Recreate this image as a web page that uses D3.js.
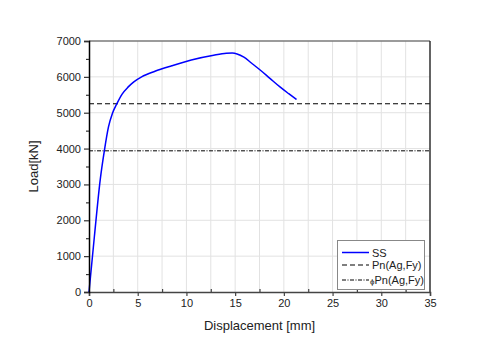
<!DOCTYPE html>
<html><head><meta charset="utf-8">
<script src="https://cdn.jsdelivr.net/npm/d3@7"></script>
<style>body{margin:0;background:#fff}svg{display:block;font-family:"Liberation Sans",Arial,sans-serif}</style>
</head><body><svg id="c" width="500" height="351"></svg>
<script>
const disp = [0, 0.55, 1.16, 1.57, 2.0, 2.4, 2.84, 3.4, 4.03, 4.6, 5.4, 6.77, 8.5, 10.5, 12.8, 14.1, 14.7, 15.2, 15.9, 16.7, 17.6, 18.6, 19.6, 20.5, 21.3];
const load = [0, 1540, 3150, 3930, 4605, 4980, 5240, 5520, 5720, 5860, 6000, 6156, 6310, 6470, 6602, 6655, 6662, 6640, 6550, 6380, 6184, 5950, 5719, 5530, 5368];
const pn = 5250;
const phiPn = 3937.5;
const xTicks = [0, 5, 10, 15, 20, 25, 30, 35];
const yTicks = [0, 1000, 2000, 3000, 4000, 5000, 6000, 7000];
const legendLabels = ["SS", "Pn(Ag,Fy)", "Pn(Ag,Fy)"];

const svg = d3.select("#c");
const L = 89, R = 430, T = 41, B = 292;
const x = d3.scaleLinear().domain([0, 35]).range([L, R]);
const y = d3.scaleLinear().domain([0, 7000]).range([B, T]);

// grid
const xGrid = d3.range(0, 35.01, 2.5);
svg.append("g").selectAll("line").data(xGrid.filter(v => v > 0 && v < 35)).join("line")
  .attr("x1", d => x(d)).attr("x2", d => x(d)).attr("y1", T).attr("y2", B)
  .attr("stroke", "#e2e2e2").attr("stroke-width", 1);
svg.append("g").selectAll("line").data(yTicks.filter(v => v > 0 && v < 7000)).join("line")
  .attr("x1", L).attr("x2", R).attr("y1", d => y(d)).attr("y2", d => y(d))
  .attr("stroke", "#e2e2e2").attr("stroke-width", 1);

// reference lines
svg.append("line").attr("x1", x(0)).attr("x2", x(35)).attr("y1", y(pn)).attr("y2", y(pn))
  .attr("stroke", "#000").attr("stroke-width", 1.1).attr("stroke-dasharray", "5,3");
svg.append("line").attr("x1", x(0)).attr("x2", x(35)).attr("y1", y(phiPn)).attr("y2", y(phiPn))
  .attr("stroke", "#000").attr("stroke-width", 1).attr("stroke-dasharray", "4,1.5,1,1.5");

// curve
const line = d3.line().x((d, i) => x(disp[i])).y((d, i) => y(load[i])).curve(d3.curveMonotoneX);
svg.append("path").datum(load).attr("d", line).attr("fill", "none")
  .attr("stroke", "#0000ff").attr("stroke-width", 1.5);

// frame
svg.append("line").attr("x1", L).attr("x2", R).attr("y1", T).attr("y2", T).attr("stroke", "#7a7a7a").attr("stroke-width", 1.6);
svg.append("line").attr("x1", R).attr("x2", R).attr("y1", T).attr("y2", B).attr("stroke", "#222").attr("stroke-width", 1.4);

// x axis
const xAx = svg.append("g").attr("transform", `translate(0,${B})`)
  .call(d3.axisBottom(x).tickValues(xTicks).tickSize(4).tickPadding(3).tickFormat(d3.format("d")));
xAx.select(".domain").attr("stroke", "#444").attr("stroke-width", 1.5);
xAx.selectAll(".tick line").attr("stroke", "#444").attr("stroke-width", 1.2);
xAx.selectAll("text").attr("font-size", 11).attr("fill", "#222").attr("font-family", "Liberation Sans, Arial, sans-serif");
svg.append("g").attr("transform", `translate(0,${B})`)
  .call(d3.axisTop(x).tickValues(d3.range(2.5, 35, 5)).tickSize(3).tickFormat(""))
  .call(g => { g.select(".domain").remove(); g.selectAll("line").attr("stroke", "#444").attr("stroke-width", 1.2); });

// y axis
const yAx = svg.append("g").attr("transform", `translate(${L},0)`)
  .call(d3.axisLeft(y).tickValues(yTicks).tickSize(5).tickPadding(3).tickFormat(d3.format("d")));
yAx.select(".domain").attr("stroke", "#000").attr("stroke-width", 1.5);
yAx.selectAll(".tick line").attr("stroke", "#333").attr("stroke-width", 1.2);
yAx.selectAll("text").attr("font-size", 11).attr("fill", "#222").attr("font-family", "Liberation Sans, Arial, sans-serif");
svg.append("g").attr("transform", `translate(${L},0)`)
  .call(d3.axisLeft(y).tickValues(d3.range(500, 7000, 1000)).tickSize(3).tickFormat(""))
  .call(g => { g.select(".domain").remove(); g.selectAll("line").attr("stroke", "#333").attr("stroke-width", 1.2); });

// titles
svg.append("text").attr("x", (L + R) / 2).attr("y", 330).attr("text-anchor", "middle")
  .attr("font-size", 13).attr("fill", "#222").text("Displacement [mm]");
svg.append("text").attr("transform", `translate(38,${(T + B) / 2}) rotate(-90)`).attr("text-anchor", "middle")
  .attr("font-size", 13).attr("fill", "#222").text("Load[kN]");

// legend
const lg = svg.append("g");
lg.append("rect").attr("x", 337.5).attr("y", 240.5).attr("width", 87).attr("height", 49)
  .attr("fill", "#fff").attr("stroke", "#888").attr("stroke-width", 1);
const rows = [252.5, 265, 280];
const styles = [
  {c: "#0000ff", w: 1.5, d: null},
  {c: "#000", w: 1.1, d: "5,3"},
  {c: "#000", w: 1, d: "4,1.5,1,1.5"}
];
rows.forEach((ry, i) => {
  lg.append("line").attr("x1", 342).attr("x2", 369).attr("y1", ry).attr("y2", ry)
    .attr("stroke", styles[i].c).attr("stroke-width", styles[i].w).attr("stroke-dasharray", styles[i].d);
  const t = lg.append("text").attr("x", i === 2 ? 370 : 372).attr("y", ry + 4).attr("font-size", 11).attr("fill", "#222");
  if (i === 2) { t.append("tspan").attr("font-size", 8).text("ϕ"); }
  t.append("tspan").text(legendLabels[i]);
});
</script></body></html>
